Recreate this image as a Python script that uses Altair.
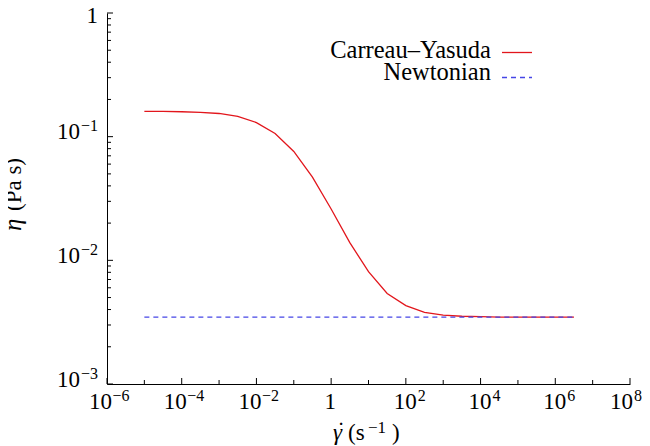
import altair as alt
import pandas as pd

# ---- data ----
shear_rate = [1e-5, 3.16e-5, 1e-4, 3.16e-4, 1e-3, 3.16e-3, 1e-2, 3.16e-2,
              1e-1, 3.16e-1, 1.0, 3.16, 10.0, 31.6, 100.0, 316.0, 1000.0,
              3160.0, 1e4, 3.16e4, 1e5, 3.16e5, 1e6, 3.16e6]
eta_cy = [0.160, 0.160, 0.159, 0.157, 0.154, 0.146, 0.130, 0.106,
          0.076, 0.047, 0.026, 0.0139, 0.0081, 0.0054, 0.0043, 0.0038, 0.0036,
          0.00353, 0.0035, 0.00348, 0.00347, 0.00347, 0.00347, 0.00347]
newt_rate = [1e-5, 3.16e6]
newt_eta = [0.00347, 0.00347]

# ticks and tick labels
x_major = [1e-6, 1e-4, 1e-2, 1, 1e2, 1e4, 1e6, 1e8]
x_minor = [1e-5, 1e-3, 1e-1, 10, 1e3, 1e5, 1e7]
x_neg_vals = [1e-6, 1e-4, 1e-2]
x_neg_exp = ["−6", "−4", "−2"]
x_pos_vals = [1e2, 1e4, 1e6]
x_pos_exp = ["2", "4", "6"]
x_last_vals = [1e8]
x_last_exp = ["8"]
x_one = [1]
y_major = [1e-3, 1e-2, 1e-1, 1]
y_neg_vals = [1e-3, 1e-2, 1e-1]
y_neg_exp = ["−3", "−2", "−1"]
y_one = [1]
y_minor = [2e-3, 3e-3, 4e-3, 5e-3, 6e-3, 7e-3, 8e-3, 9e-3,
           2e-2, 3e-2, 4e-2, 5e-2, 6e-2, 7e-2, 8e-2, 9e-2,
           2e-1, 3e-1, 4e-1, 5e-1, 6e-1, 7e-1, 8e-1, 9e-1]

series_names = ["Carreau–Yasuda", "Newtonian"]
RED = "#e2161c"
BLUE = "#4646e6"
FONT = "Liberation Serif"
FS = 23     # base text size
FSUP = 16   # superscript size

W, H = 523, 371

xs = alt.Scale(type="log", domain=[1e-6, 1e8], nice=False)
ys = alt.Scale(type="log", domain=[1e-3, 1], nice=False)

xaxis = alt.Axis(labels=False, ticks=False, title=None, grid=False)
yaxis = alt.Axis(labels=False, ticks=False, title=None, grid=False)


def X(f):
    return alt.X(f, scale=xs, axis=xaxis)


def Y(f):
    return alt.Y(f, scale=ys, axis=yaxis)


df_cy = pd.DataFrame({"g": shear_rate, "eta": eta_cy})
df_nw = pd.DataFrame({"g": newt_rate, "eta": newt_eta})

curve = alt.Chart(df_cy).mark_line(color=RED, strokeWidth=1.3).encode(x=X("g:Q"), y=Y("eta:Q"))
newt = alt.Chart(df_nw).mark_line(color=BLUE, strokeWidth=1.3, strokeDash=[5, 4]).encode(
    x=X("g:Q"), y=Y("eta:Q"))

# inward ticks
y_major_ticks = alt.Chart(pd.DataFrame({"eta": y_major})).mark_rule(color="black", strokeWidth=1).encode(
    y=Y("eta:Q"), x=alt.value(0), x2=alt.value(6))
y_minor_ticks = alt.Chart(pd.DataFrame({"eta": y_minor})).mark_rule(color="black", strokeWidth=1).encode(
    y=Y("eta:Q"), x=alt.value(0), x2=alt.value(4))
x_major_ticks = alt.Chart(pd.DataFrame({"g": x_major})).mark_rule(color="black", strokeWidth=1).encode(
    x=X("g:Q"), y=alt.value(H), y2=alt.value(H - 6))
x_minor_ticks = alt.Chart(pd.DataFrame({"g": x_minor})).mark_rule(color="black", strokeWidth=1).encode(
    x=X("g:Q"), y=alt.value(H), y2=alt.value(H - 4))

txt = dict(font=FONT, color="black", baseline="alphabetic")

# x tick labels: "10" + superscript exponent
xl_neg = pd.DataFrame({"g": x_neg_vals, "b": ["10"] * len(x_neg_vals), "e": x_neg_exp})
xl_pos = pd.DataFrame({"g": x_pos_vals, "b": ["10"] * len(x_pos_vals), "e": x_pos_exp})
xl_last = pd.DataFrame({"g": x_last_vals, "b": ["10"], "e": x_last_exp})
xn_base = alt.Chart(xl_neg).mark_text(align="right", dx=5, fontSize=FS, **txt).encode(
    x=X("g:Q"), y=alt.value(H + 25), text="b:N")
xn_exp = alt.Chart(xl_neg).mark_text(align="left", dx=5.5, fontSize=FSUP, **txt).encode(
    x=X("g:Q"), y=alt.value(H + 17), text="e:N")
xp_base = alt.Chart(xl_pos).mark_text(align="right", dx=11, fontSize=FS, **txt).encode(
    x=X("g:Q"), y=alt.value(H + 25), text="b:N")
xp_exp = alt.Chart(xl_pos).mark_text(align="left", dx=12, fontSize=FSUP, **txt).encode(
    x=X("g:Q"), y=alt.value(H + 17), text="e:N")
xl_base = alt.Chart(xl_last).mark_text(align="right", dx=3, fontSize=FS, **txt).encode(
    x=X("g:Q"), y=alt.value(H + 25), text="b:N")
xl_exp = alt.Chart(xl_last).mark_text(align="left", dx=4, fontSize=FSUP, **txt).encode(
    x=X("g:Q"), y=alt.value(H + 17), text="e:N")
x1_lab = alt.Chart(pd.DataFrame({"g": x_one, "b": ["1"]})).mark_text(
    align="center", dx=-1, fontSize=FS, **txt).encode(x=X("g:Q"), y=alt.value(H + 25), text="b:N")

# y tick labels
yl_neg = pd.DataFrame({"eta": y_neg_vals, "b": ["10"] * len(y_neg_vals), "e": y_neg_exp})
yn_base = alt.Chart(yl_neg).mark_text(align="right", dy=2.5, fontSize=FS, **txt).encode(
    y=Y("eta:Q"), x=alt.value(-27), text="b:N")
yn_exp = alt.Chart(yl_neg).mark_text(align="left", dy=-5.5, fontSize=FSUP, **txt).encode(
    y=Y("eta:Q"), x=alt.value(-26), text="e:N")
y1_lab = alt.Chart(pd.DataFrame({"eta": y_one, "b": ["1"]})).mark_text(
    align="right", dy=9.5, fontSize=FS, **txt).encode(y=Y("eta:Q"), x=alt.value(-9), text="b:N")

# axis titles built from pieces (italic symbol + unit with superscript)
one = lambda s: pd.DataFrame({"t": [s]})
xt_sym = alt.Chart(one("γ")).mark_text(align="left", fontSize=FS, fontStyle="italic", **txt).encode(
    text="t:N", x=alt.value(226), y=alt.value(H + 56))
xt_dot = alt.Chart(one("˙")).mark_text(align="center", fontSize=FS, **txt).encode(
    text="t:N", x=alt.value(234), y=alt.value(H + 54))
xt_unit = alt.Chart(one("(s")).mark_text(align="left", fontSize=FS, **txt).encode(
    text="t:N", x=alt.value(241), y=alt.value(H + 56))
xt_exp = alt.Chart(one("−1")).mark_text(align="left", fontSize=17, **txt).encode(
    text="t:N", x=alt.value(261), y=alt.value(H + 49))
xt_close = alt.Chart(one(")")).mark_text(align="left", fontSize=FS, **txt).encode(
    text="t:N", x=alt.value(285), y=alt.value(H + 56))
yt_sym = alt.Chart(one("η")).mark_text(align="left", angle=270, fontSize=25, fontStyle="italic", **txt).encode(
    text="t:N", x=alt.value(-86), y=alt.value(218))
yt_unit = alt.Chart(one("(Pa s)")).mark_text(align="left", angle=270, fontSize=FS, **txt).encode(
    text="t:N", x=alt.value(-86), y=alt.value(198))

# legend (text right-aligned, sample line to the right)
leg_t1 = alt.Chart(one(series_names[0])).mark_text(align="right", fontSize=24.5, **txt).encode(
    text="t:N", x=alt.value(384), y=alt.value(45))
leg_t2 = alt.Chart(one(series_names[1])).mark_text(align="right", fontSize=24.5, **txt).encode(
    text="t:N", x=alt.value(384), y=alt.value(67))
leg_l1 = alt.Chart(one(series_names[0])).mark_rule(color=RED, strokeWidth=1.3).encode(
    x=alt.value(395), x2=alt.value(425), y=alt.value(39.5))
leg_l2 = alt.Chart(one(series_names[1])).mark_rule(color=BLUE, strokeWidth=1.3, strokeDash=[5, 4]).encode(
    x=alt.value(395), x2=alt.value(425), y=alt.value(64.5))

chart = alt.layer(
    curve, newt, y_major_ticks, y_minor_ticks, x_major_ticks, x_minor_ticks,
    xn_base, xn_exp, xp_base, xp_exp, xl_base, xl_exp, x1_lab, yn_base, yn_exp, y1_lab,
    xt_sym, xt_dot, xt_unit, xt_exp, xt_close, yt_sym, yt_unit,
    leg_t1, leg_t2, leg_l1, leg_l2,
).properties(
    width=W, height=H,
    autosize=alt.AutoSizeParams(type="none"),
    padding={"left": 99, "top": 5, "right": 12, "bottom": 62},
    background="white",
).configure_view(stroke=None).configure_axis(
    grid=False, domainColor="black", domainWidth=1,
)

chart.save("out.html", embed_options={"renderer": "svg", "actions": False})
